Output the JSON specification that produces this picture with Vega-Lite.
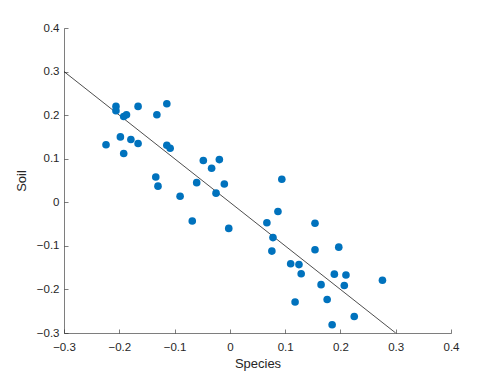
{
  "$schema": "https://vega.github.io/schema/vega-lite/v6.json",
  "autosize": {"type": "none"},
  "padding": {"left": 64, "top": 28, "right": 47, "bottom": 42},
  "width": 387,
  "height": 305,
  "background": "white",
  "config": {
    "view": {"stroke": null},
    "font": "Liberation Sans",
    "axis": {
      "grid": false,
      "domainColor": "#262626",
      "domainWidth": 0.6,
      "tickColor": "#262626",
      "tickWidth": 0.6,
      "tickSize": -4,
      "labelFlush": false,
      "labelOverlap": false,
      "labelColor": "#262626",
      "labelFontSize": 11.5,
      "titleColor": "#262626",
      "titleFontSize": 13,
      "titleFontWeight": "normal"
    }
  },
  "datasets": {
    "pts": [
      {"species": -0.206, "soil": 0.220},
      {"species": -0.206, "soil": 0.210},
      {"species": -0.192, "soil": 0.197},
      {"species": -0.187, "soil": 0.201},
      {"species": -0.166, "soil": 0.220},
      {"species": -0.114, "soil": 0.226},
      {"species": -0.132, "soil": 0.201},
      {"species": -0.224, "soil": 0.132},
      {"species": -0.198, "soil": 0.150},
      {"species": -0.179, "soil": 0.144},
      {"species": -0.166, "soil": 0.135},
      {"species": -0.192, "soil": 0.112},
      {"species": -0.114, "soil": 0.131},
      {"species": -0.108, "soil": 0.124},
      {"species": -0.134, "soil": 0.058},
      {"species": -0.130, "soil": 0.037},
      {"species": -0.090, "soil": 0.014},
      {"species": -0.048, "soil": 0.096},
      {"species": -0.019, "soil": 0.098},
      {"species": -0.033, "soil": 0.078},
      {"species": -0.060, "soil": 0.045},
      {"species": -0.010, "soil": 0.042},
      {"species": -0.025, "soil": 0.021},
      {"species": -0.068, "soil": -0.043},
      {"species": -0.002, "soil": -0.060},
      {"species": 0.094, "soil": 0.053},
      {"species": 0.087, "soil": -0.021},
      {"species": 0.067, "soil": -0.047},
      {"species": 0.078, "soil": -0.081},
      {"species": 0.076, "soil": -0.112},
      {"species": 0.154, "soil": -0.048},
      {"species": 0.154, "soil": -0.109},
      {"species": 0.197, "soil": -0.103},
      {"species": 0.110, "soil": -0.141},
      {"species": 0.125, "soil": -0.143},
      {"species": 0.129, "soil": -0.164},
      {"species": 0.189, "soil": -0.165},
      {"species": 0.210, "soil": -0.167},
      {"species": 0.165, "soil": -0.189},
      {"species": 0.207, "soil": -0.191},
      {"species": 0.276, "soil": -0.179},
      {"species": 0.176, "soil": -0.223},
      {"species": 0.118, "soil": -0.229},
      {"species": 0.225, "soil": -0.262},
      {"species": 0.185, "soil": -0.281}
    ],
    "fit": [
      {"species": -0.3, "soil": 0.3},
      {"species": 0.3, "soil": -0.3}
    ]
  },
  "layer": [
    {
      "data": {"name": "fit"},
      "mark": {"type": "line", "color": "black", "strokeWidth": 0.7, "clip": true},
      "encoding": {
        "x": {"field": "species", "type": "quantitative"},
        "y": {"field": "soil", "type": "quantitative"}
      }
    },
    {
      "data": {"name": "pts"},
      "mark": {"type": "circle", "color": "#0072BD", "opacity": 1, "size": 58},
      "encoding": {
        "x": {
          "field": "species", "type": "quantitative",
          "scale": {"domain": [-0.3, 0.4], "nice": false, "zero": false},
          "axis": {"title": "Species", "values": [-0.3, -0.2, -0.1, 0, 0.1, 0.2, 0.3, 0.4], "format": "~g", "labelPadding": 12, "titlePadding": 5}
        },
        "y": {
          "field": "soil", "type": "quantitative",
          "scale": {"domain": [-0.3, 0.4], "nice": false, "zero": false},
          "axis": {"title": "Soil", "values": [-0.3, -0.2, -0.1, 0, 0.1, 0.2, 0.3, 0.4], "format": "~g", "labelPadding": 9, "titlePadding": 8}
        }
      }
    }
  ]
}
